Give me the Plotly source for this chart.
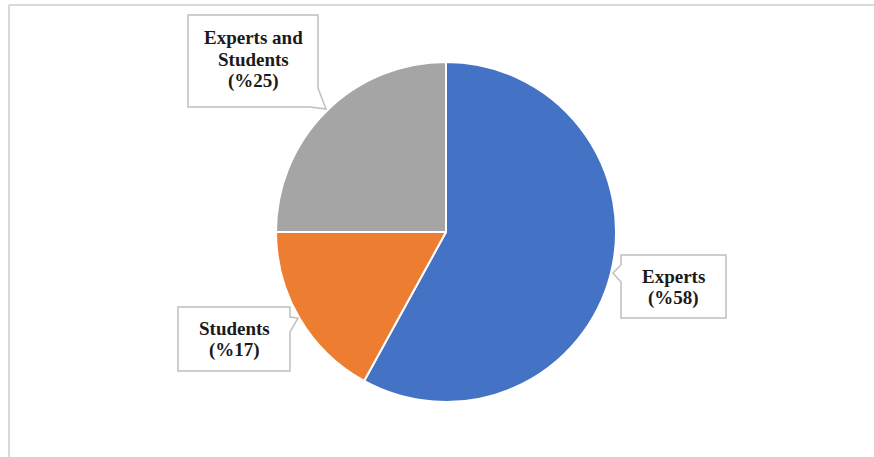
import plotly.graph_objects as go

# Share of respondents by group
groups = ["Experts", "Students", "Experts and Students"]
shares = [58, 17, 25]
colors = ["#4472C4", "#ED7D31", "#A5A5A5"]
callout_lines = [["Experts", "(%58)"], ["Students", "(%17)"], ["Experts and", "Students", "(%25)"]]

W, H = 874, 457
LINE_GAP = 21.5


def px(x):
    return x / W


def py(y):
    return 1 - y / H


def path(points):
    pts = [f"{px(x):.5f},{py(y):.5f}" for x, y in points]
    return "M " + " L ".join(pts) + " Z"


fig = go.Figure(
    go.Pie(
        labels=groups,
        values=shares,
        sort=False,
        direction="clockwise",
        rotation=0,
        marker=dict(colors=colors, line=dict(color="white", width=2)),
        textinfo="none",
        hoverinfo="label+percent",
        showlegend=False,
        domain=dict(x=[px(276), px(616)], y=[py(402), py(62)]),
    )
)

# Callout boxes (rectangle with pointer) and their text centres
callouts = {
    "Experts": dict(
        pts=[(621, 255), (726, 255), (726, 318), (621, 318), (621, 282), (613, 273), (621, 265)],
        cx=673, cy=287,
    ),
    "Students": dict(
        pts=[(178, 307), (290, 307), (290, 317), (298, 318), (290, 332), (290, 371), (178, 371)],
        cx=234, cy=339,
    ),
    "Experts and Students": dict(
        pts=[(188, 15), (318, 15), (318, 88), (326, 109), (310, 107), (188, 107)],
        cx=253, cy=59,
    ),
}

shapes = [
    # frame lines along the top and left edge
    dict(type="line", xref="paper", yref="paper", x0=px(9), x1=1, y0=py(5), y1=py(5),
         line=dict(color="#D9D9D9", width=2)),
    dict(type="line", xref="paper", yref="paper", x0=px(9), x1=px(9), y0=py(5), y1=0,
         line=dict(color="#D9D9D9", width=2)),
]
annotations = []
for g, lines in zip(groups, callout_lines):
    c = callouts[g]
    shapes.append(dict(type="path", xref="paper", yref="paper", path=path(c["pts"]),
                       fillcolor="white", line=dict(color="#BFBFBF", width=1.5)))
    n = len(lines)
    for i, line in enumerate(lines):
        y = c["cy"] + (i - (n - 1) / 2) * LINE_GAP
        annotations.append(dict(
            x=px(c["cx"]), y=py(y), xref="paper", yref="paper",
            text=f"<b>{line}</b>", showarrow=False, align="center",
            xanchor="center", yanchor="middle",
            font=dict(family="Liberation Serif, Times New Roman, serif", size=19, color="#1a1a1a"),
        ))

fig.update_layout(
    width=W, height=H,
    margin=dict(l=0, r=0, t=0, b=0),
    paper_bgcolor="white",
    plot_bgcolor="white",
    shapes=shapes,
    annotations=annotations,
)

fig.write_html("out.html")
